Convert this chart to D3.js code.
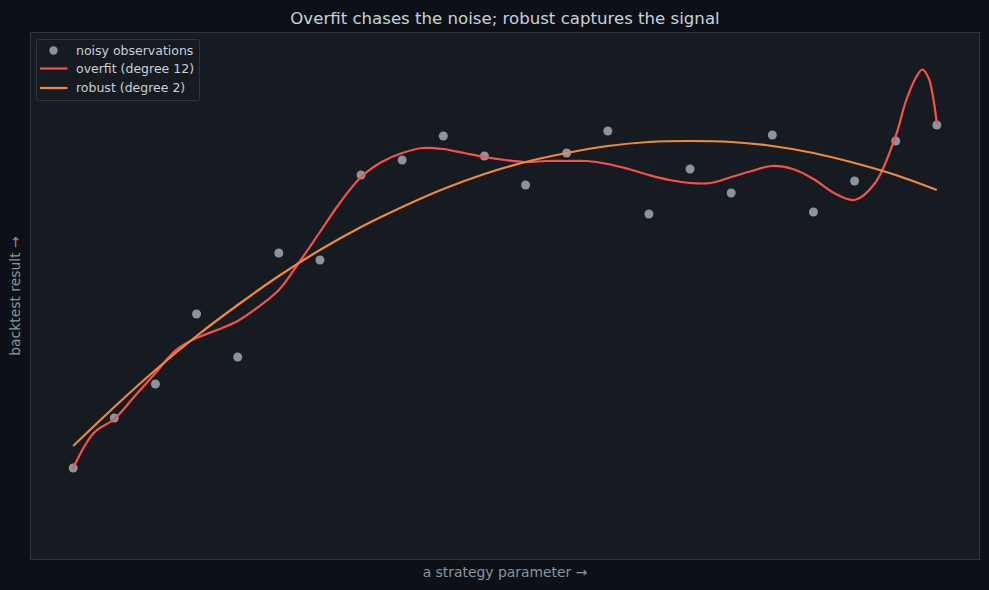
<!DOCTYPE html>
<html>
<head>
<meta charset="utf-8">
<script src="https://cdn.jsdelivr.net/npm/d3@7"></script>
<style>
  html, body { margin: 0; padding: 0; background: #0d1117; }
  svg { display: block; }
  text { font-family: "DejaVu Sans", sans-serif; }
</style>
</head>
<body>
<div id="chart"></div>
<script>
// ---- data ----
const observationX = d3.range(22); // strategy parameter index 0..21
const observationY = [0.92, 1.42, 1.76, 2.46, 2.03, 3.07, 3.00, 3.85, 4.00, 4.24, 4.04,
                      3.75, 4.07, 4.29, 3.46, 3.91, 3.67, 4.25, 3.48, 3.79, 4.19, 4.35];

const overfitX = [0, 0.5, 1, 1.5, 2, 2.5, 3, 3.5, 4, 4.5, 5, 5.5, 6, 6.5, 7, 7.5, 8, 8.5, 9, 9.5,
                  10, 10.5, 11, 11.5, 12, 12.5, 13, 13.5, 14, 14.5, 15, 15.5, 16, 16.5, 17, 17.5,
                  18, 18.5, 19, 19.5, 20, 20.25, 20.5, 20.65, 20.8, 20.9, 21];
const overfitY = [0.92, 1.27, 1.41, 1.64, 1.87, 2.10, 2.22, 2.30, 2.39, 2.53, 2.70, 2.98, 3.28,
                  3.58, 3.83, 3.98, 4.07, 4.12, 4.11, 4.07, 4.03, 4.00, 3.98, 3.99, 3.99, 3.99,
                  3.96, 3.91, 3.85, 3.80, 3.77, 3.77, 3.83, 3.89, 3.94, 3.91, 3.81, 3.67, 3.60,
                  3.77, 4.24, 4.59, 4.83, 4.905, 4.82, 4.65, 4.37];

const robustX = d3.range(22);
const robustY = [1.14, 1.53, 1.90, 2.24, 2.55, 2.84, 3.10, 3.33, 3.53, 3.71, 3.86,
                 3.98, 4.07, 4.14, 4.18, 4.19, 4.18, 4.14, 4.07, 3.97, 3.85, 3.70];

const legendLabels = ["noisy observations", "overfit (degree 12)", "robust (degree 2)"];
const titleText = "Overfit chases the noise; robust captures the signal";
const xLabel = "a strategy parameter \u2192";
const yLabel = "backtest result \u2192";

// ---- layout ----
const W = 989, H = 590;
const plot = { left: 30, top: 32, right: 980, bottom: 560 };
const colors = { bg: "#0d1117", panel: "#161b22", border: "#30363d", text: "#c9d1d9",
                 muted: "#8b949e", point: "#8b949e", overfit: "#f85149", robust: "#f0883e" };

const x = d3.scaleLinear().domain([-1.05, 22.05]).range([plot.left, plot.right]);
const y = d3.scaleLinear().domain([0, 5.28]).range([plot.bottom, plot.top]);

const svg = d3.select("#chart").append("svg").attr("width", W).attr("height", H);
svg.append("rect").attr("width", W).attr("height", H).attr("fill", colors.bg);

svg.append("rect")
  .attr("x", plot.left + 0.5).attr("y", plot.top + 0.5)
  .attr("width", plot.right - plot.left - 1).attr("height", plot.bottom - plot.top - 1)
  .attr("fill", colors.panel).attr("stroke", colors.border).attr("stroke-width", 1);

// title & labels
svg.append("text").attr("x", (plot.left + plot.right) / 2).attr("y", 24)
  .attr("text-anchor", "middle").attr("fill", colors.text).attr("font-size", 16.6)
  .text(titleText);
svg.append("text").attr("x", (plot.left + plot.right) / 2).attr("y", 577)
  .attr("text-anchor", "middle").attr("fill", colors.muted).attr("font-size", 13.9)
  .text(xLabel);
svg.append("text")
  .attr("transform", `translate(20,${(plot.top + plot.bottom) / 2}) rotate(-90)`)
  .attr("text-anchor", "middle").attr("fill", colors.muted).attr("font-size", 13.9)
  .text(yLabel);

const g = svg.append("g");

// points
g.selectAll("circle.obs").data(observationX.map((d, i) => [d, observationY[i]]))
  .join("circle").attr("class", "obs")
  .attr("cx", d => x(d[0])).attr("cy", d => y(d[1])).attr("r", 4.5)
  .attr("fill", colors.point);

const line = d3.line().x(d => x(d[0])).y(d => y(d[1])).curve(d3.curveCatmullRom.alpha(0.5));

g.append("path").datum(overfitX.map((d, i) => [d, overfitY[i]]))
  .attr("d", line).attr("fill", "none").attr("stroke", colors.overfit)
  .attr("stroke-width", 2.2).attr("stroke-linecap", "round");

g.append("path").datum(robustX.map((d, i) => [d, robustY[i]]))
  .attr("d", line).attr("fill", "none").attr("stroke", colors.robust)
  .attr("stroke-width", 2.2).attr("stroke-linecap", "butt");

// legend
const lg = svg.append("g");
lg.append("rect").attr("x", 36.5).attr("y", 39.5).attr("width", 163).attr("height", 61)
  .attr("rx", 2).attr("fill", colors.panel).attr("fill-opacity", 0.8)
  .attr("stroke", colors.border);
const rows = [50.5, 68.5, 88];
lg.append("circle").attr("cx", 53.5).attr("cy", rows[0]).attr("r", 4.2).attr("fill", colors.point);
lg.append("line").attr("x1", 40).attr("x2", 67.5).attr("y1", rows[1]).attr("y2", rows[1])
  .attr("stroke", colors.overfit).attr("stroke-width", 2.2);
lg.append("line").attr("x1", 40).attr("x2", 67.5).attr("y1", rows[2]).attr("y2", rows[2])
  .attr("stroke", colors.robust).attr("stroke-width", 2.2);
lg.selectAll("text.lab").data(legendLabels).join("text").attr("class", "lab")
  .attr("x", 76).attr("y", (d, i) => rows[i] + 4.2)
  .attr("fill", colors.text).attr("font-size", 12.5).text(d => d);
</script>
</body>
</html>
